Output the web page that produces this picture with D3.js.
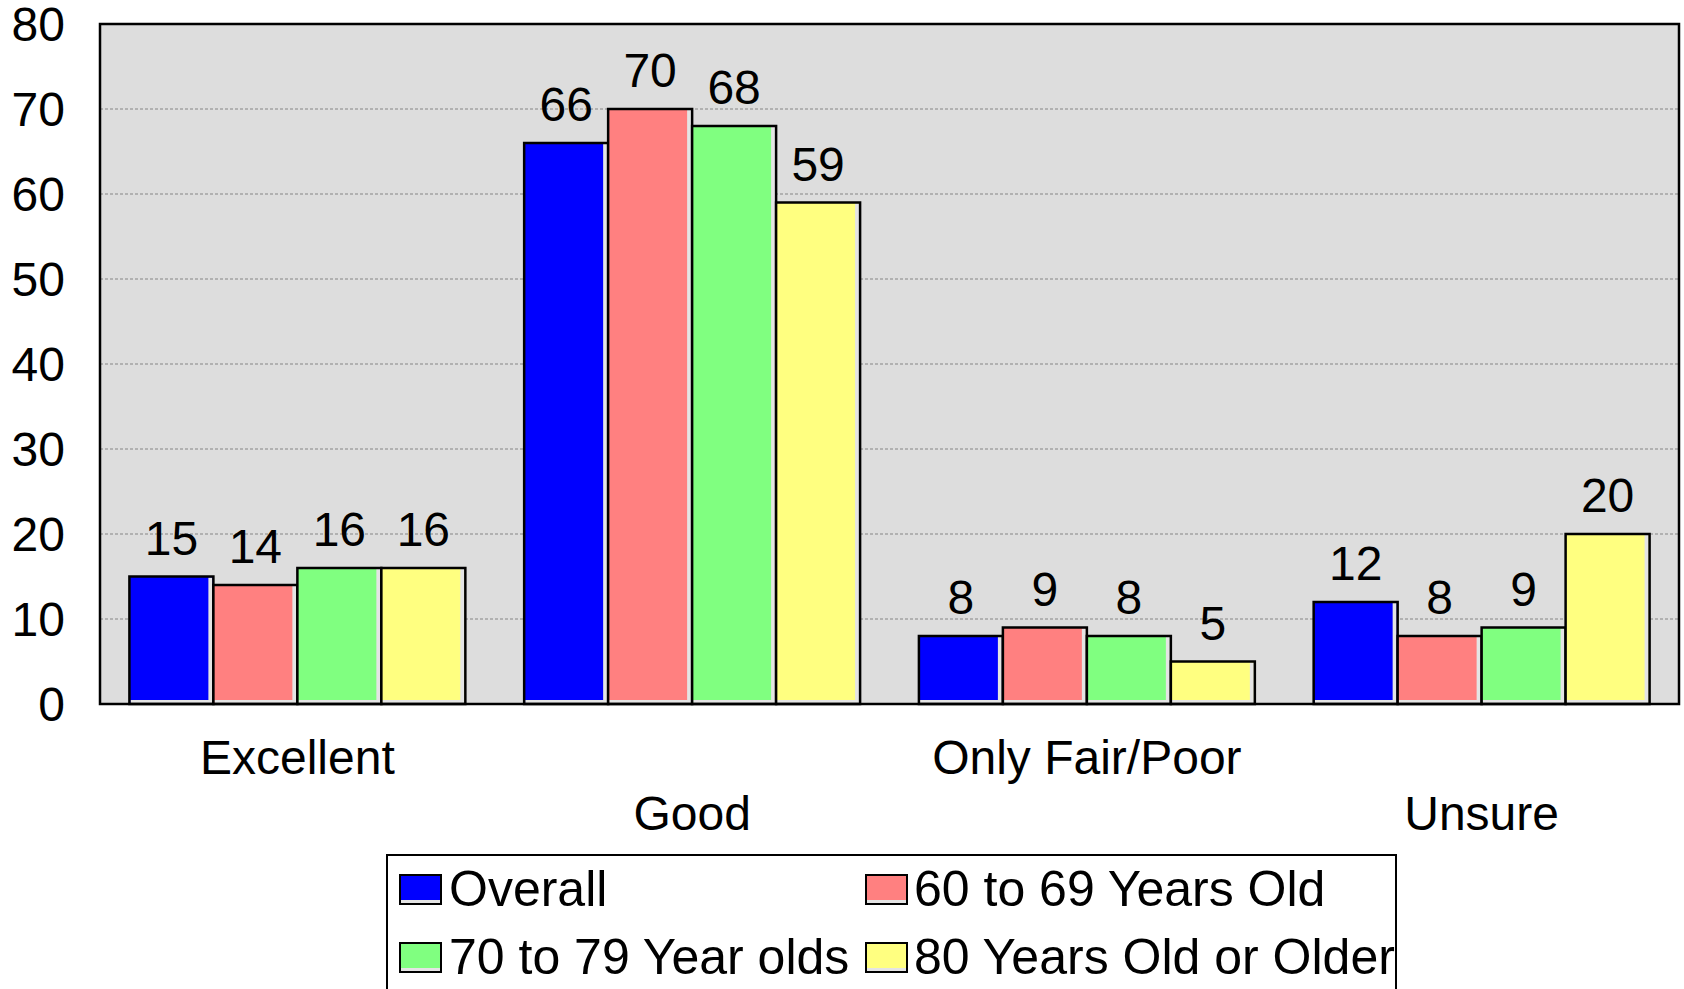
<!DOCTYPE html>
<html>
<head>
<meta charset="utf-8">
<script src="https://cdn.jsdelivr.net/npm/d3@7"></script>
<style>
  html, body { margin: 0; padding: 0; background: #ffffff; }
  svg { display: block; }
  text { font-family: "Liberation Sans", Arial, sans-serif; fill: #000; }
</style>
</head>
<body>
<svg id="chart" width="1684" height="989"></svg>
<script>
const categories = ["Excellent", "Good", "Only Fair/Poor", "Unsure"];
const seriesNames = ["Overall", "60 to 69 Years Old", "70 to 79 Year olds", "80 Years Old or Older"];
const overall = [15, 66, 8, 12];
const age60to69 = [14, 70, 9, 8];
const age70to79 = [16, 68, 8, 9];
const age80plus = [16, 59, 5, 20];
const yTicks = [0, 10, 20, 30, 40, 50, 60, 70, 80];
const colors = ["#0000ff", "#ff8080", "#80ff80", "#ffff80"];

const seriesValues = [overall, age60to69, age70to79, age80plus];

const svg = d3.select("#chart");
const plot = { left: 100, right: 1679, top: 24, bottom: 704 };

const y = d3.scaleLinear().domain([0, 80]).range([plot.bottom, plot.top]);
const x0 = d3.scaleBand().domain(categories).range([plot.left, plot.right])
  .paddingInner(0.149).paddingOuter(0.0745);
const x1 = d3.scaleBand().domain(seriesNames).range([0, x0.bandwidth()]).padding(0);

// plot background
svg.append("rect")
  .attr("x", plot.left).attr("y", plot.top)
  .attr("width", plot.right - plot.left).attr("height", plot.bottom - plot.top)
  .attr("fill", "#dddddd");

// gridlines
svg.append("g").selectAll("line")
  .data(yTicks.filter(d => d > 0 && d < 80))
  .join("line")
  .attr("x1", plot.left).attr("x2", plot.right)
  .attr("y1", d => y(d)).attr("y2", d => y(d))
  .attr("stroke", "#858585").attr("stroke-width", 1)
  .attr("stroke-dasharray", "3,2");

// y tick labels
svg.append("g").selectAll("text")
  .data(yTicks)
  .join("text")
  .attr("x", 65).attr("y", d => y(d) + 17)
  .attr("text-anchor", "end")
  .attr("font-size", 48)
  .text(d => d);

// bars
const groups = svg.append("g").selectAll("g")
  .data(categories)
  .join("g")
  .attr("transform", d => `translate(${x0(d)},0)`);

groups.each(function(cat, ci) {
  const g = d3.select(this);
  seriesNames.forEach((s, si) => {
    const v = seriesValues[si][ci];
    const bx = x1(s), bw = x1.bandwidth();
    const by = y(v), bh = y(0) - y(v);
    g.append("rect")
      .attr("x", bx).attr("y", by).attr("width", bw).attr("height", bh)
      .attr("fill", colors[si]);
    // light inner edges (right & bottom)
    g.append("rect")
      .attr("x", bx + bw - 5).attr("y", by + 1).attr("width", 4).attr("height", bh - 1)
      .attr("fill", "#e4e4e4");
    g.append("rect")
      .attr("x", bx + 1).attr("y", y(0) - 4).attr("width", bw - 2).attr("height", 4)
      .attr("fill", "#e4e4e4");
    g.append("rect")
      .attr("x", bx).attr("y", by).attr("width", bw).attr("height", bh)
      .attr("fill", "none").attr("stroke", "#000").attr("stroke-width", 2.5);
    g.append("text")
      .attr("x", bx + bw / 2).attr("y", by - 22)
      .attr("text-anchor", "middle")
      .attr("font-size", 48)
      .text(v);
  });
});

// plot border
svg.append("rect")
  .attr("x", plot.left).attr("y", plot.top)
  .attr("width", plot.right - plot.left).attr("height", plot.bottom - plot.top)
  .attr("fill", "none").attr("stroke", "#000").attr("stroke-width", 2.5);

// category labels (staggered)
svg.append("g").selectAll("text")
  .data(categories)
  .join("text")
  .attr("x", d => x0(d) + x0.bandwidth() / 2)
  .attr("y", (d, i) => i % 2 === 0 ? 774 : 830)
  .attr("text-anchor", "middle")
  .attr("font-size", 48)
  .text(d => d);

// legend
const legend = svg.append("g");
legend.append("rect")
  .attr("x", 387).attr("y", 855).attr("width", 1009).attr("height", 200)
  .attr("fill", "#fff").attr("stroke", "#000").attr("stroke-width", 2);

const legendPos = [
  { sx: 400, tx: 449, y: 906 },
  { sx: 866, tx: 914, y: 906 },
  { sx: 400, tx: 449, y: 974 },
  { sx: 866, tx: 914, y: 974 }
];
seriesNames.forEach((s, i) => {
  const p = legendPos[i];
  const sy = p.y - 31;
  legend.append("rect")
    .attr("x", p.sx).attr("y", sy).attr("width", 41).attr("height", 29)
    .attr("fill", colors[i]);
  legend.append("rect")
    .attr("x", p.sx + 1).attr("y", sy + 25).attr("width", 39).attr("height", 4)
    .attr("fill", "#e4e4e4");
  legend.append("rect")
    .attr("x", p.sx).attr("y", sy).attr("width", 41).attr("height", 29)
    .attr("fill", "none").attr("stroke", "#000").attr("stroke-width", 2);
  legend.append("text")
    .attr("x", p.tx).attr("y", p.y)
    .attr("font-size", 50)
    .text(s);
});
</script>
</body>
</html>
